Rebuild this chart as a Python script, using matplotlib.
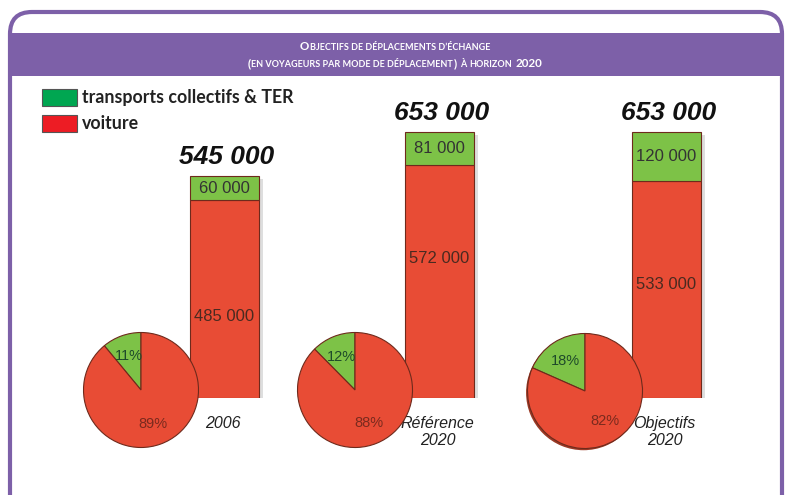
import matplotlib.pyplot as plt
from matplotlib.patches import FancyBboxPatch, Rectangle

# données
categories = ["2006", "Référence\n2020", "Objectifs\n2020"]
tc_ter = [60000, 81000, 120000]
voiture = [485000, 572000, 533000]
legend_labels = ["transports collectifs & TER", "voiture"]

# mise en page (pixels)
W, H = 785, 495
bar_x = [224.5, 439.5, 666.5]
bar_w = 69
pie_centers = [(141, 390), (355, 390), (585, 391)]
pie_r = 57.5
red_label_frac = [0.41, 0.60, 0.525]
cat_label_y = [423, 432, 432]

purple = "#7D60A8"
red = "#E84C35"
green = "#7DC247"
edge = "#6E2A1C"

fig = plt.figure(figsize=(W / 100, H / 100), dpi=100)

# fond, cadre et bandeau
bg = fig.add_axes([0, 0, 1, 1])
bg.set_xlim(0, W)
bg.set_ylim(H, 0)
bg.axis("off")
bg.add_patch(FancyBboxPatch((10, 12), 772, 560,
                            boxstyle="round,pad=0,rounding_size=22",
                            fc="white", ec=purple, lw=3))
bg.add_patch(Rectangle((11.5, 33), 769, 43, fc=purple, ec="none"))


def small_caps_line(y, parts, big=8.4, small=6.5, cx=395):
    texts = []
    for s, is_big, gap in parts:
        t = bg.text(0, y, s, fontsize=big if is_big else small, color="white",
                    family="Lato", weight="bold", va="baseline", ha="left")
        texts.append((t, gap))
    fig.canvas.draw()
    r = fig.canvas.get_renderer()
    widths = [t.get_window_extent(r).width + g for t, g in texts]
    x = cx - sum(widths) / 2
    for (t, g), w in zip(texts, widths):
        t.set_x(x + g)
        x += w


small_caps_line(50, [("O", True, 0), ("BJECTIFS DE DÉPLACEMENTS D’ÉCHANGE", False, 0.5)])
small_caps_line(67, [("(", True, 0), ("EN VOYAGEURS PAR MODE DE DÉPLACEMENT", False, 0.5),
                     (")", True, 0.5), ("À", False, 3.5), ("HORIZON", False, 3),
                     ("2020", True, 3.5)])

# légende
for i, (lab, col) in enumerate(zip(legend_labels, ["#00A651", "#ED1C24"])):
    y0 = 89 + i * 26
    bg.add_patch(Rectangle((42, y0), 35, 17, fc=col, ec="#555555", lw=0.8))
    bg.text(82, y0 + 8.5, lab, fontsize=12.8, family="Lato", weight="bold",
            color="#222222", va="center", ha="left")

# barres empilées
ax = fig.add_axes([0, (H - 398) / H, 1, 800000 * 266 / 653000 / H])
ax.set_xlim(0, W)
ax.set_ylim(0, 800000)
ax.axis("off")
totals = [a + b for a, b in zip(tc_ter, voiture)]
shadow_dx = 4
ax.bar([x + shadow_dx for x in bar_x], totals, width=bar_w, bottom=-8000,
       color="#bfbfbf", alpha=0.5, zorder=1)
ax.bar(bar_x, voiture, width=bar_w, color=red, edgecolor=edge, lw=0.8, zorder=2)
ax.bar(bar_x, tc_ter, width=bar_w, bottom=voiture, color=green,
       edgecolor=edge, lw=0.8, zorder=2)

fmt = lambda v: f"{v:,}".replace(",", " ")
for x, v, t, tot, fr in zip(bar_x, voiture, tc_ter, totals, red_label_frac):
    ax.text(x, v + t / 2, fmt(t), ha="center", va="center", fontsize=12,
            family="Liberation Sans", color="#333333", zorder=3)
    ax.text(x, v * fr, fmt(v), ha="center", va="center", fontsize=12,
            family="Liberation Sans", color="#4a2a20", zorder=3)
    ax.annotate(fmt(tot), (x + 2, tot), xytext=(0, 8.5), textcoords="offset points",
                ha="center", va="baseline", fontsize=19, family="Liberation Sans",
                weight="bold", style="italic", color="#111111",
                annotation_clip=False)

for x, y, lab in zip(bar_x, cat_label_y, categories):
    bg.text(x - 2, y, lab, ha="center", va="center", fontsize=11.5,
            family="Liberation Sans", style="italic", color="#222222",
            linespacing=1.1, zorder=5)

# camemberts
lim = 1.04
for i, ((cx, cy), t, v) in enumerate(zip(pie_centers, tc_ter, voiture)):
    s = pie_r * lim
    pax = fig.add_axes([(cx - s) / W, (H - cy - s) / H, 2 * s / W, 2 * s / H])
    pax.set_zorder(4)
    if i == 2:
        pax.pie([1], colors=["#9A3A26"], radius=1, center=(-0.025, -0.03),
                wedgeprops=dict(lw=0))
    _, txts, auto = pax.pie([t, v], colors=[green, red], startangle=90,
                            radius=1, autopct="%1.0f%%", pctdistance=0.62,
                            wedgeprops=dict(edgecolor=edge, lw=0.8),
                            textprops=dict(fontsize=10.5, family="Liberation Sans"))
    auto[0].set_color("#1E4A2A")
    auto[1].set_color("#7A2A1E")
    pax.set_xlim(-lim, lim)
    pax.set_ylim(-lim, lim)
    pax.set_aspect("equal")

fig.savefig("out.png", dpi=100)
